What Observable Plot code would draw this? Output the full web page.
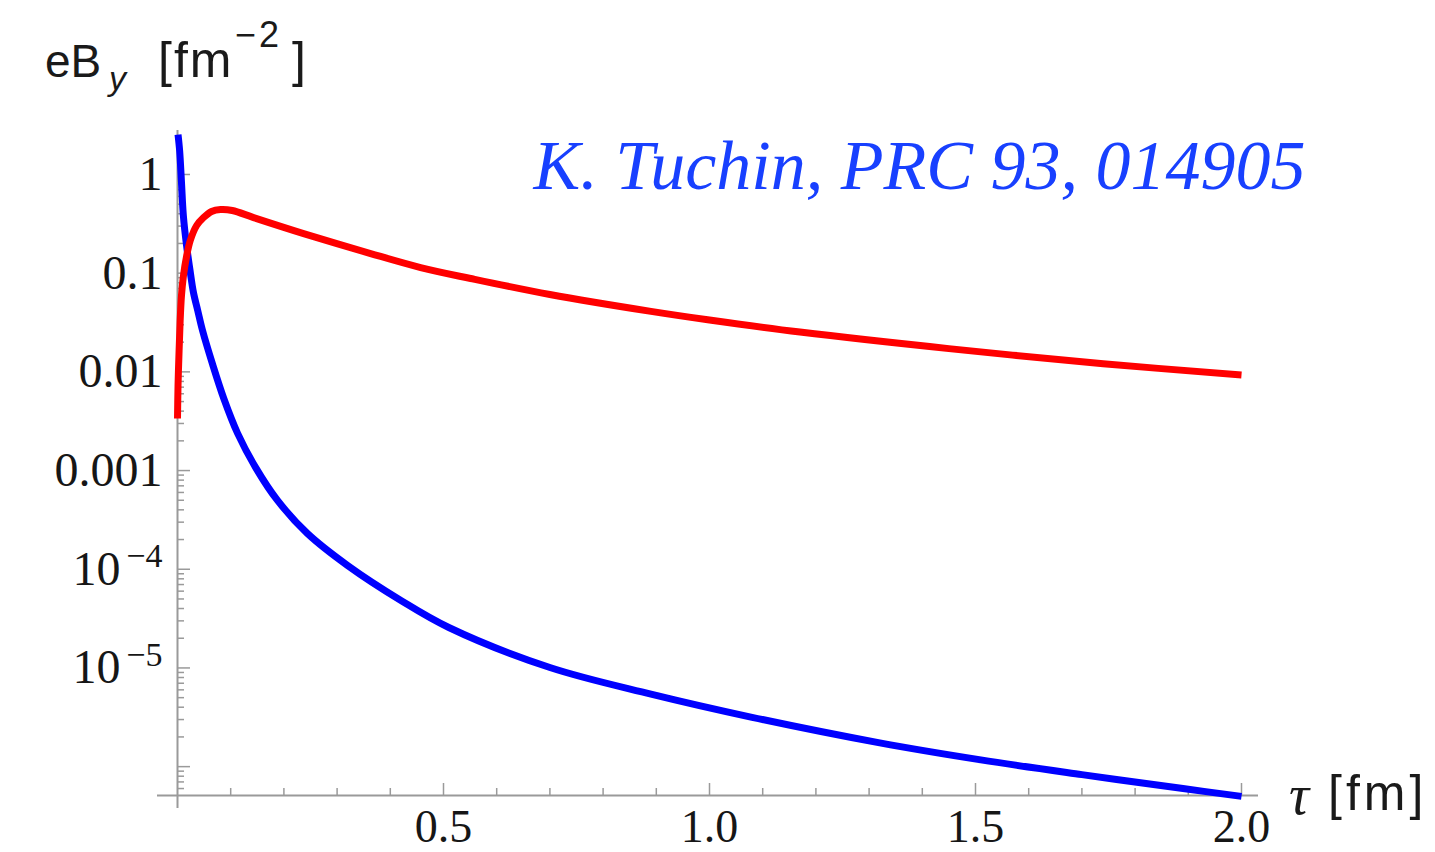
<!DOCTYPE html>
<html>
<head>
<meta charset="utf-8">
<script src="https://cdn.jsdelivr.net/npm/d3@7"></script>
<script src="https://cdn.jsdelivr.net/npm/@observablehq/plot@0.6"></script>
<style>
  html, body { margin: 0; padding: 0; background: #fff; }
  #chart { position: relative; width: 1435px; height: 852px; overflow: hidden; }
  .t { position: absolute; white-space: nowrap; color: #1a1a1a; line-height: 0;
       font-family: "Liberation Sans", Arial, sans-serif; }
  .serif { font-family: "Liberation Serif", "Times New Roman", serif; }
</style>
</head>
<body>
<div id="chart">
  <!-- y-axis title: eB_y [fm^-2]; each piece is placed on its own baseline -->
  <span class="t" style="left:45px; top:61px; font-size:46px;">eB</span>
  <span class="t" style="left:109px; top:78px; font-size:34px; font-style:italic;">y</span>
  <span class="t" style="left:158px; top:60px; font-size:50px; letter-spacing:2px;">[fm</span>
  <span class="t" style="left:235px; top:35px; font-size:36px; letter-spacing:3px;">−2</span>
  <span class="t" style="left:292px; top:60px; font-size:50px;">]</span>
  <!-- x-axis title: τ [fm] -->
  <span class="t serif" style="left:1289px; top:795px; font-size:56px; font-style:italic;">τ</span>
  <span class="t" style="left:1328px; top:793px; font-size:50px; letter-spacing:4px;">[fm]</span>
</div>
<script>
// Proper time τ [fm] and field eB_y [fm^-2], blue curve
const tauBlue = [0.001, 0.004, 0.0075, 0.011, 0.017, 0.023, 0.030, 0.038, 0.047, 0.066, 0.087,
                 0.113, 0.147, 0.188, 0.244, 0.32, 0.42, 0.51, 0.70, 0.89, 1.08, 1.32,
                 1.51, 1.70, 1.89, 2.0];
const fieldBlue = [2.54, 1.75, 0.83, 0.384, 0.191, 0.112, 0.0637, 0.0419, 0.0263, 0.0119, 0.00537,
                   0.00238, 0.00107, 0.000498, 0.000231, 0.000109, 4.83e-5, 2.57e-5, 1.01e-5, 5.43e-6, 3.16e-6, 1.74e-6,
                   1.17e-6, 8.3e-7, 6.0e-7, 5.0e-7];

// Red curve
const tauRed = [0, 0.001, 0.003, 0.005, 0.0075, 0.011, 0.017, 0.024, 0.036, 0.049, 0.064,
                0.081, 0.103, 0.143, 0.237, 0.363, 0.457, 0.551, 0.70, 0.89, 1.0,
                1.17, 1.45, 1.74, 2.0];
const fieldRed = [0.00337, 0.00728, 0.0165, 0.0332, 0.0594, 0.0926, 0.1476, 0.2143, 0.304, 0.366, 0.422,
                  0.442, 0.432, 0.366, 0.252, 0.158, 0.114, 0.0883, 0.0608, 0.041, 0.0335,
                  0.0253, 0.0172, 0.0121, 0.0093];

// Axis ticks and labels
const xMajor = [0.5, 1.0, 1.5, 2.0];
const xMajorLabels = ["0.5", "1.0", "1.5", "2.0"];
const xMinor = [0.1, 0.2, 0.3, 0.4, 0.6, 0.7, 0.8, 0.9, 1.1, 1.2, 1.3, 1.4, 1.6, 1.7, 1.8, 1.9];
const yMajor = [1, 0.1, 0.01, 0.001, 1e-4, 1e-5, 1e-6];
const yPlain = [1, 0.1, 0.01, 0.001];
const yPlainLabels = ["1", "0.1", "0.01", "0.001"];
const yPower = [1e-4, 1e-5];
const yPowerExponents = ["−4", "−5"];
const citation = "K. Tuchin, PRC 93, 014905";

// Visible range of the axes
const xDomain = [0, 2];
const yDomain = [5.1e-7, 2.79];

const yMinor = [];
for (let k = -7; k <= -1; k++) {
  for (let m = 2; m <= 9; m++) {
    const v = m * Math.pow(10, k);
    if (v >= yDomain[0] && v < 1) yMinor.push(v);
  }
}

const blue = tauBlue.map((t, i) => ({tau: t, b: fieldBlue[i]}));
const red = tauRed.map((t, i) => ({tau: t, b: fieldRed[i]}));
const xLab = xMajor.map((v, i) => ({v, label: xMajorLabels[i]}));
const yLab = yPlain.map((v, i) => ({v, label: yPlainLabels[i]}));
const yPow = yPower.map((v, i) => ({v, exp: yPowerExponents[i]}));

const W = 1435, H = 852;
const mL = 177, mR = 194, mT = 130, mB = 57;
const frameW = W - mL - mR, frameH = H - mT - mB;
const axisGray = "#9a9a9a";
const ink = "#161616";
const tickFont = "'Liberation Serif', 'Times New Roman', serif";

const chart = Plot.plot({
  width: W, height: H,
  marginLeft: mL, marginRight: mR, marginTop: mT, marginBottom: mB,
  style: {background: "#fff", overflow: "visible"},
  x: {domain: xDomain, axis: null},
  y: {type: "log", domain: yDomain, axis: null},
  marks: [
    // axis lines
    Plot.ruleY([yDomain[0]], {stroke: axisGray, strokeWidth: 2, insetLeft: -20, insetRight: -17}),
    Plot.ruleX([0], {stroke: axisGray, strokeWidth: 2, insetBottom: -13}),
    // x ticks
    Plot.tickX(xMinor, {x: d => d, stroke: axisGray, strokeWidth: 1.5, insetTop: frameH - 7}),
    Plot.tickX(xMajor, {x: d => d, stroke: axisGray, strokeWidth: 1.5, insetTop: frameH - 12}),
    // y ticks
    Plot.tickY(yMinor, {y: d => d, stroke: axisGray, strokeWidth: 1.5, insetRight: frameW - 7}),
    Plot.tickY(yMajor, {y: d => d, stroke: axisGray, strokeWidth: 1.5, insetRight: frameW - 13}),
    // tick labels
    Plot.text(xLab, {x: "v", text: "label", frameAnchor: "bottom", dy: 32, lineAnchor: "middle",
                     fontSize: 46, fontFamily: tickFont, fill: ink}),
    Plot.text(yLab, {y: "v", text: "label", frameAnchor: "left", dx: -15, textAnchor: "end",
                     lineAnchor: "middle", fontSize: 48, fontFamily: tickFont, fill: ink}),
    Plot.text(yPow, {y: "v", text: () => "10", frameAnchor: "left", dx: -57, textAnchor: "end",
                     lineAnchor: "middle", fontSize: 48, fontFamily: tickFont, fill: ink}),
    Plot.text(yPow, {y: "v", text: "exp", frameAnchor: "left", dx: -15, dy: -2, textAnchor: "end",
                     lineAnchor: "bottom", fontSize: 34, fontFamily: tickFont, fill: ink}),
    // curves
    Plot.line(blue, {x: "tau", y: "b", stroke: "#0000ff", strokeWidth: 7, curve: "catmull-rom",
                     strokeLinecap: "butt"}),
    Plot.line(red, {x: "tau", y: "b", stroke: "#ff0000", strokeWidth: 7, curve: "catmull-rom",
                    strokeLinecap: "butt"}),
    // reference note
    Plot.text([citation], {frameAnchor: "top-right", dx: 64, dy: 58, textAnchor: "end", lineAnchor: "bottom",
                           fontSize: 70, fontStyle: "italic", fontFamily: tickFont, fill: "#1840ff"})
  ]
});

document.getElementById("chart").prepend(chart);
chart.style.position = "absolute";
chart.style.left = "0px";
chart.style.top = "0px";
</script>
</body>
</html>
